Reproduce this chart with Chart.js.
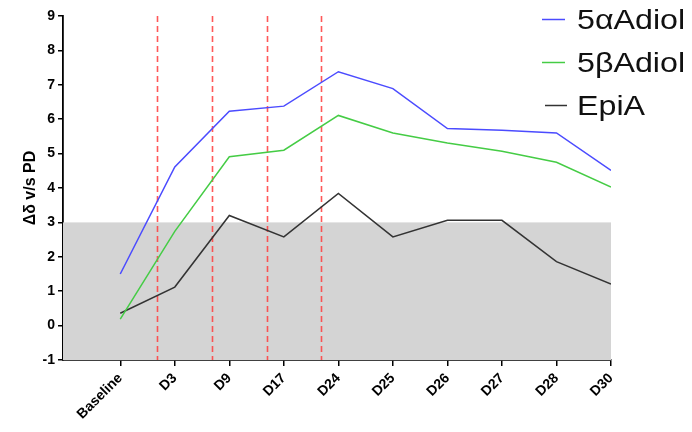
<!DOCTYPE html>
<html>
<head>
<meta charset="utf-8">
<script src="https://cdn.jsdelivr.net/npm/chart.js@4"></script>
<style>
  html, body { margin: 0; padding: 0; background: #fff; }
  #wrap { width: 692px; height: 432px; }
</style>
</head>
<body>
<div id="wrap"><canvas id="c" width="692" height="432"></canvas></div>
<script>
// Time points along the x axis
const categories = ['Baseline', 'D3', 'D9', 'D17', 'D24', 'D25', 'D26', 'D27', 'D28', 'D30'];

// Δδ v/s PD per compound
const alphaAdiol = [1.50, 4.61, 6.23, 6.38, 7.38, 6.89, 5.73, 5.68, 5.60, 4.51];
const betaAdiol  = [0.19, 2.74, 4.91, 5.10, 6.11, 5.60, 5.31, 5.07, 4.75, 4.03];
const epiA       = [0.36, 1.12, 3.20, 2.58, 3.84, 2.58, 3.06, 3.06, 1.86, 1.21];

// Y axis ticks
const yTicks = [-1, 0, 1, 2, 3, 4, 5, 6, 7, 8, 9];

// Shaded band (y range) and dosing markers (x positions between time points)
const bandRange = [-1, 3];
const doseMarkers = [0.68, 1.69, 2.69, 3.69];

const FONT = '"Liberation Sans", Arial, Helvetica, sans-serif';

const toPoints = arr => arr.map((v, i) => ({ x: i, y: v }));

const series = [
  { label: '5\u03B1Adiol', data: alphaAdiol, color: '#4b4bff' },
  { label: '5\u03B2Adiol', data: betaAdiol,  color: '#45cc45' },
  { label: 'EpiA',        data: epiA,       color: '#333333' }
];

// Gray band and red dashed markers behind the lines
const backdrop = {
  id: 'backdrop',
  beforeDatasetsDraw(chart) {
    const { ctx, scales: { x, y } } = chart;
    ctx.save();
    ctx.fillStyle = '#d4d4d4';
    const top = y.getPixelForValue(bandRange[1]);
    const bot = y.getPixelForValue(bandRange[0]);
    ctx.fillRect(x.left, top, x.right - x.left, bot - top);

    ctx.strokeStyle = 'rgba(255,60,60,0.85)';
    ctx.lineWidth = 1.6;
    ctx.setLineDash([6, 4]);
    const yTop = y.getPixelForValue(yTicks[yTicks.length - 1]);
    const yBot = y.getPixelForValue(yTicks[0]);
    doseMarkers.forEach(m => {
      const px = Math.round(x.getPixelForValue(m)) + 0.5;
      ctx.beginPath();
      ctx.moveTo(px, yTop);
      ctx.lineTo(px, yBot);
      ctx.stroke();
    });
    ctx.restore();
  }
};

// Legend in the upper right corner
const sideLegend = {
  id: 'sideLegend',
  afterDraw(chart) {
    const { ctx } = chart;
    ctx.save();
    ctx.font = '28px ' + FONT;
    ctx.textBaseline = 'middle';
    ctx.textAlign = 'left';
    const rows = [19, 62, 105];
    chart.data.datasets.forEach((ds, i) => {
      const yy = rows[i];
      ctx.strokeStyle = ds.borderColor;
      ctx.lineWidth = 1.5;
      ctx.beginPath();
      ctx.moveTo(i === 2 ? 545 : 542, yy + 0.5);
      ctx.lineTo(i === 2 ? 567 : 565, yy + 0.5);
      ctx.stroke();
      ctx.fillStyle = '#111';
      ctx.save();
      ctx.translate(577, yy + 2);
      ctx.scale(1.15, 1);
      ctx.fillText(ds.label, 0, 0);
      ctx.restore();
    });
    ctx.restore();
  }
};

new Chart(document.getElementById('c'), {
  type: 'line',
  data: {
    datasets: series.map(s => ({
      label: s.label,
      data: toPoints(s.data),
      borderColor: s.color,
      backgroundColor: s.color,
      borderWidth: 1.5,
      pointRadius: 0,
      tension: 0,
      fill: false
    }))
  },
  options: {
    responsive: false,
    animation: false,
    devicePixelRatio: 1,
    layout: { padding: { top: 16, right: 81, bottom: 0, left: 0 } },
    plugins: {
      legend: { display: false },
      tooltip: { enabled: false }
    },
    scales: {
      x: {
        type: 'linear',
        min: -1.05,
        max: categories.length - 1,
        afterBuildTicks(scale) {
          scale.ticks = categories.map((_, i) => ({ value: i }));
        },
        afterFit(scale) { scale.height = 72; },
        ticks: {
          autoSkip: false,
          maxRotation: 45,
          minRotation: 45,
          color: '#000',
          padding: 4,
          font: { family: FONT, size: 14, weight: 'bold' },
          callback: v => categories[v] ?? ''
        },
        grid: {
          drawOnChartArea: false,
          drawTicks: true,
          tickLength: 6,
          color: '#000',
          lineWidth: 1.5
        },
        border: { color: '#000', width: 1.8 }
      },
      y: {
        type: 'linear',
        min: yTicks[0],
        max: yTicks[yTicks.length - 1],
        afterBuildTicks(scale) {
          scale.ticks = yTicks.map(v => ({ value: v }));
        },
        afterFit(scale) { scale.width = 63; },
        title: {
          display: true,
          text: '\u0394\u03B4 v/s PD',
          color: '#000',
          padding: { top: 21, bottom: 0 },
          font: { family: FONT, size: 16, weight: 'bold' }
        },
        ticks: {
          color: '#000',
          padding: 3,
          font: { family: FONT, size: 14, weight: 'bold' }
        },
        grid: {
          drawOnChartArea: false,
          drawTicks: true,
          tickLength: 5,
          color: '#000',
          lineWidth: 1.5
        },
        border: { color: '#000', width: 1.8 }
      }
    }
  },
  plugins: [backdrop, sideLegend]
});
</script>
</body>
</html>
